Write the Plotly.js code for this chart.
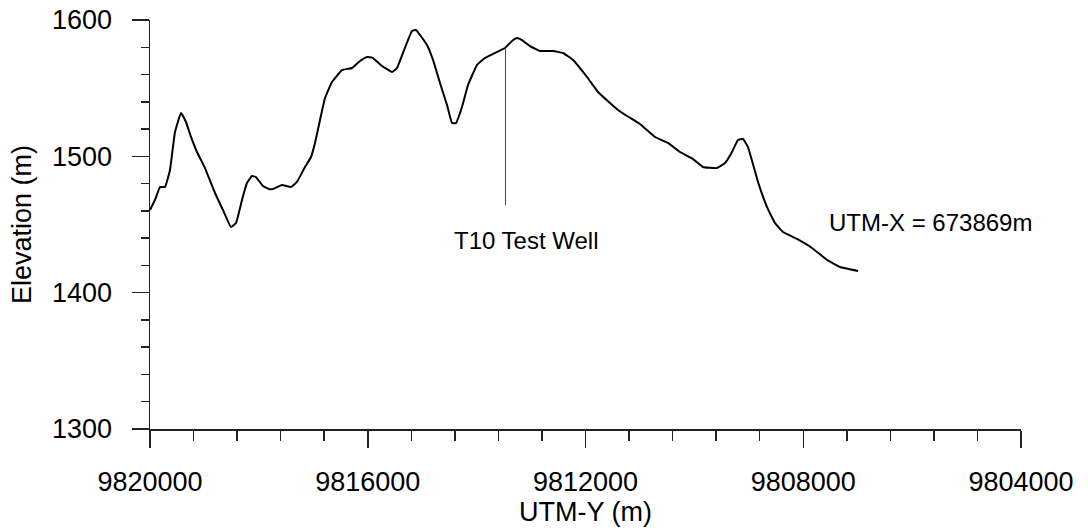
<!DOCTYPE html>
<html>
<head>
<meta charset="utf-8">
<script src="https://cdn.plot.ly/plotly-3.0.1.min.js"></script>
<style>html,body{margin:0;padding:0;background:#fff;}#chart{width:1088px;height:531px;}</style>
</head>
<body>
<div id="chart"></div>
<script>
// Profile: UTM-Y (m) vs Elevation (m)
const utmY = [
  9820000, 9819908, 9819816, 9819724, 9819633, 9819541, 9819431, 9819339, 9819247, 9819137,
  9818990, 9818806, 9818659, 9818512, 9818420, 9818310, 9818219, 9818127, 9818053, 9817924,
  9817814, 9817741, 9817575, 9817410, 9817300, 9817153, 9817042, 9816969, 9816877, 9816785,
  9816657, 9816473, 9816289, 9816142, 9816014, 9815904, 9815738, 9815555, 9815463, 9815353,
  9815187, 9815114, 9814912, 9814801, 9814673, 9814544, 9814452, 9814379, 9814269, 9814158,
  9813993, 9813846, 9813699, 9813479, 9813350, 9813258, 9813167, 9813019, 9812836, 9812597,
  9812413, 9812229, 9811972, 9811770, 9811550, 9811403, 9811238, 9811001, 9810723, 9810484,
  9810264, 9810025, 9809842, 9809585, 9809437, 9809309, 9809199, 9809107, 9809015, 9808831,
  9808666, 9808519, 9808372, 9808115, 9807839, 9807564, 9807325, 9806994
];
const elevation = [
  1460.6, 1468.0, 1477.5, 1477.5, 1490.0, 1517.8, 1531.8, 1525.2, 1514.2, 1503.2,
  1491.4, 1473.1, 1460.6, 1448.2, 1451.1, 1468.0, 1480.4, 1485.6, 1484.8, 1478.2,
  1476.0, 1476.0, 1479.0, 1477.5, 1481.2, 1492.2, 1499.5, 1509.8, 1526.7, 1542.8,
  1554.5, 1563.3, 1564.8, 1569.9, 1572.9, 1572.1, 1566.3, 1561.9, 1564.8, 1575.8,
  1591.9, 1592.7, 1581.7, 1570.7, 1553.8, 1537.7, 1524.4, 1524.4, 1536.2, 1552.3,
  1567.0, 1572.1, 1575.1, 1579.5, 1584.6, 1586.8, 1585.3, 1580.9, 1577.3, 1577.3,
  1575.8, 1570.7, 1558.2, 1547.2, 1539.1, 1534.0, 1529.6, 1523.7, 1514.2, 1509.8,
  1503.2, 1498.0, 1492.2, 1491.4, 1495.1, 1503.2, 1512.0, 1512.7, 1506.8, 1481.2,
  1462.8, 1451.1, 1444.5, 1439.4, 1432.8, 1424.0, 1418.8, 1415.9
];
const wellX = [9813470, 9813470];
const wellY = [1579.5, 1464.3];
const wellLabel = "T10 Test Well";
const wellLabelPos = [9813084, 1438.6];
const utmXLabel = "UTM-X = 673869m";
const utmXLabelPos = [9807563, 1451.8];
const xRange = [9820000, 9804000];
const yRange = [1300, 1600];
const xTickVals = [9820000, 9816000, 9812000, 9808000, 9804000];
const xTickText = ["9820000", "9816000", "9812000", "9808000", "9804000"];
const yTickVals = [1300, 1400, 1500, 1600];
const yTickText = ["1300", "1400", "1500", "1600"];

const FONT = "Liberation Sans, Arial, Helvetica, sans-serif";
const axisColor = "#222";

const traces = [
  {x: utmY, y: elevation, type: "scatter", mode: "lines",
   line: {color: "#000", width: 2, shape: "spline", smoothing: 0.3}, hoverinfo: "skip"},
  {x: wellX, y: wellY, type: "scatter", mode: "lines",
   line: {color: "#444", width: 1}, hoverinfo: "skip"}
];

const layout = {
  width: 1088, height: 531,
  margin: {l: 150, r: 67, t: 20, b: 102, pad: 0},
  paper_bgcolor: "#fff", plot_bgcolor: "#fff",
  showlegend: false,
  font: {family: FONT, color: "#000"},
  xaxis: {
    range: xRange, autorange: false,
    tickmode: "array", tickvals: xTickVals, ticktext: xTickText,
    ticks: "outside", ticklen: 17, tickwidth: 1.5, tickcolor: axisColor,
    minor: {dtick: 800, tick0: 9820000, ticks: "outside", ticklen: 10, tickwidth: 1.5, tickcolor: axisColor, showgrid: false},
    showline: true, linecolor: axisColor, linewidth: 1.5,
    showgrid: false, zeroline: false,
    tickfont: {size: 27, family: FONT, color: "#000"},
    ticklabelstandoff: 11,
    title: {text: "UTM-Y (m)", font: {size: 27, family: FONT, color: "#000"}, standoff: 0}
  },
  yaxis: {
    range: yRange, autorange: false,
    tickmode: "array", tickvals: yTickVals, ticktext: yTickText,
    ticks: "outside", ticklen: 17, tickwidth: 1.5, tickcolor: axisColor,
    minor: {dtick: 20, tick0: 1300, ticks: "outside", ticklen: 8, tickwidth: 1.5, tickcolor: axisColor, showgrid: false},
    showline: true, linecolor: axisColor, linewidth: 1.5,
    showgrid: false, zeroline: false,
    tickfont: {size: 27, family: FONT, color: "#000"},
    ticklabelstandoff: 14,
    title: {text: "Elevation (m)", font: {size: 27, family: FONT, color: "#000"}, standoff: 12}
  },
  shapes: [
    {type: "line", xref: "paper", x0: 0, x1: 0, yref: "y", ysizemode: "pixel", yanchor: 1300,
     y0: 0, y1: -10, line: {color: axisColor, width: 1.5}}
  ],
  annotations: [
    {x: wellLabelPos[0], y: wellLabelPos[1], xref: "x", yref: "y", text: wellLabel,
     showarrow: false, xanchor: "center", yanchor: "middle",
     font: {size: 24, family: FONT, color: "#000"}},
    {x: utmXLabelPos[0], y: utmXLabelPos[1], xref: "x", yref: "y", text: utmXLabel,
     showarrow: false, xanchor: "left", yanchor: "middle",
     font: {size: 24, family: FONT, color: "#000"}}
  ]
};

Plotly.newPlot("chart", traces, layout, {staticPlot: true, displayModeBar: false});
</script>
</body>
</html>
